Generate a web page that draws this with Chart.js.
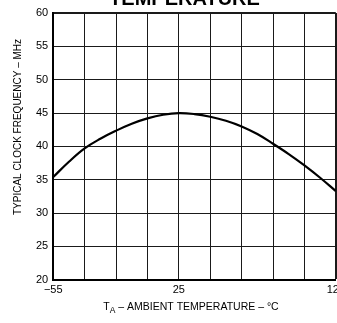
<!DOCTYPE html>
<html><head><meta charset="utf-8">
<script src="https://cdn.jsdelivr.net/npm/chart.js@4"></script>
<style>
html,body{margin:0;padding:0;background:#fff;overflow:hidden;width:337px;height:323px;}
#wrap{position:relative;width:337px;height:323px;overflow:hidden;}
canvas{position:absolute;left:0;top:0;}
</style></head><body>
<div id="wrap"><canvas id="c" width="349" height="323"></canvas></div>
<script>
const chartTitle = "TEMPERATURE";
const yTitle = "TYPICAL CLOCK FREQUENCY \u2013 MHz";
const xTitleMain = "T";
const xTitleSub = "A";
const xTitleRest = " \u2013 AMBIENT TEMPERATURE \u2013 \u00B0C";
const temps = [-55,-45,-35,-25,-15,-5,5,15,25,35,45,55,65,75,85,95,105,115,125];
const freq  = [35.4,37.7,39.7,41.15,42.35,43.4,44.2,44.75,45.0,44.85,44.45,43.85,43.0,41.85,40.4,38.85,37.15,35.3,33.3];
const xTicks = [-55,-35,-15,5,25,45,65,85,105,125];
const xLabeled = [-55,25,125];
const yMin = 20, yMax = 60, yStep = 5;

const FONT = "'Liberation Sans', Arial, Helvetica, sans-serif";

const textPlugin = {
  id: 'texts',
  afterDraw(chart) {
    const ctx = chart.ctx;
    ctx.save();
    ctx.fillStyle = '#000';
    // main title (cut at top)
    ctx.font = "bold 20px " + FONT;
    ctx.textAlign = 'center';
    ctx.textBaseline = 'alphabetic';
    ctx.fillText(chartTitle, 184.5, 5);
    // y title
    ctx.font = "10px " + FONT;
    ctx.save();
    ctx.translate(20.5, 127);
    ctx.rotate(-Math.PI/2);
    ctx.textAlign = 'center';
    ctx.fillText(yTitle, 0, 0);
    ctx.restore();
    // x title with subscript
    ctx.textAlign = 'left';
    const mainFont = "10.5px " + FONT, subFont = "8.5px " + FONT;
    ctx.font = mainFont; const w1 = ctx.measureText(xTitleMain).width;
    ctx.font = subFont; const w2 = ctx.measureText(xTitleSub).width;
    ctx.font = mainFont; const w3 = ctx.measureText(xTitleRest).width;
    const total = w1 + w2 + w3;
    let x = 191 - total/2;
    const base = 310;
    ctx.font = mainFont; ctx.fillText(xTitleMain, x, base); x += w1;
    ctx.font = subFont; ctx.fillText(xTitleSub, x, base + 3); x += w2;
    ctx.font = mainFont; ctx.fillText(xTitleRest, x, base);
    ctx.restore();
  }
};

new Chart(document.getElementById('c'), {
  type: 'line',
  data: {
    datasets: [{
      data: temps.map((t, i) => ({x: t, y: freq[i]})),
      borderColor: '#000',
      borderWidth: 2.2,
      pointRadius: 0,
      fill: false,
      tension: 0.4
    }]
  },
  options: {
    responsive: false,
    animation: false,
    events: [],
    layout: { padding: { top: 13, left: 31, right: 0, bottom: 22 } },
    plugins: { legend: { display: false }, title: { display: false }, tooltip: { enabled: false } },
    scales: {
      x: {
        type: 'linear',
        min: temps[0], max: temps[temps.length-1],
        afterBuildTicks(scale) { scale.ticks = xTicks.map(v => ({value: v})); },
        ticks: {
          autoSkip: false, maxRotation: 0, padding: 4,
          color: '#000',
          font: { family: FONT, size: 11 },
          callback: (v) => xLabeled.includes(v) ? (v < 0 ? '\u2212' + Math.abs(v) : String(v)) : ''
        },
        grid: {
          color: '#1a1a1a',
          drawTicks: false,
          lineWidth: (c) => (c.tick && (c.tick.value === 125)) ? 2 : 1
        },
        border: { display: true, color: '#000', width: 2 }
      },
      y: {
        min: yMin, max: yMax,
        ticks: { stepSize: yStep, padding: 5, color: '#000', font: { family: FONT, size: 11 } },
        grid: {
          color: '#1a1a1a',
          drawTicks: false,
          lineWidth: (c) => (c.tick && (c.tick.value === yMax)) ? 2 : 1
        },
        border: { display: true, color: '#000', width: 2 }
      }
    }
  },
  plugins: [textPlugin]
});
</script>
</body></html>
